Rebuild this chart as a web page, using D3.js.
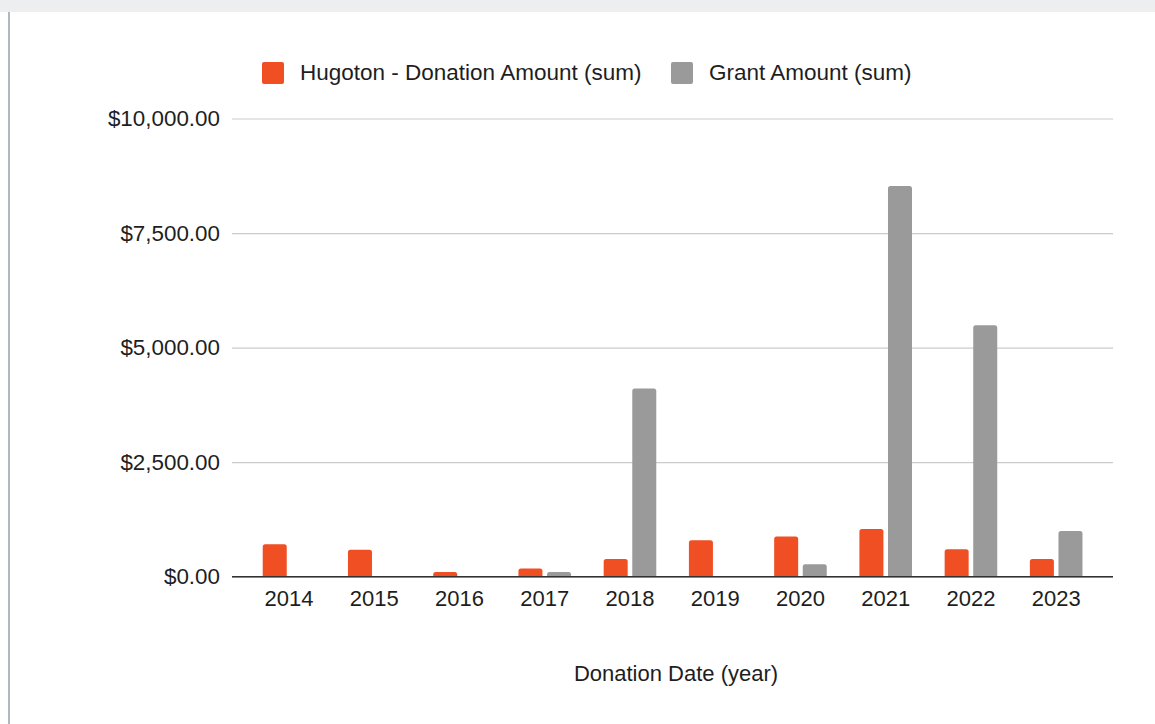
<!DOCTYPE html>
<html>
<head>
<meta charset="utf-8">
<script src="https://cdn.jsdelivr.net/npm/d3@7"></script>
<style>
  html, body { margin: 0; padding: 0; background: #fff; }
  svg { display: block; font-family: "Liberation Sans", Arial, Helvetica, sans-serif; }
</style>
</head>
<body>
<svg id="chart" width="1155" height="724"></svg>
<script>
const years = ["2014","2015","2016","2017","2018","2019","2020","2021","2022","2023"];
const seriesNames = ["Hugoton - Donation Amount (sum)", "Grant Amount (sum)"];
const donationAmount = [710, 590, 100, 180, 385, 795, 880, 1040, 600, 385];
const grantAmount = [0, 0, 0, 100, 4110, 0, 270, 8525, 5490, 1000];
const yTicks = [0, 2500, 5000, 7500, 10000];
const seriesColors = ["#ef4f23", "#9a9a9a"];
const xAxisTitle = "Donation Date (year)";

const svg = d3.select("#chart");
const W = 1155, H = 724;

// page chrome
svg.append("rect").attr("x", 0).attr("y", 0).attr("width", W).attr("height", 12).attr("fill", "#eceef0");
svg.append("rect").attr("x", 8).attr("y", 12).attr("width", 2).attr("height", H - 12).attr("fill", "#adb8bf");

const plotLeft = 232, plotRight = 1113;
const y = d3.scaleLinear().domain([0, 10000]).range([576.7, 118.5]);
const x0 = d3.scaleBand().domain(years).range([246.4, 1098.8]).paddingInner(0.383).paddingOuter(0.1915);
const x1 = d3.scaleBand().domain([0, 1]).range([0, x0.bandwidth()]).paddingInner(0.16).paddingOuter(0);

const fmt = v => "$" + d3.format(",.2f")(v);

// gridlines + y labels
const yAxis = d3.axisLeft(y).tickValues(yTicks).tickSize(-(plotRight - plotLeft)).tickPadding(12).tickFormat(fmt);
const gy = svg.append("g").attr("transform", `translate(${plotLeft},0)`).call(yAxis);
gy.select(".domain").remove();
gy.selectAll(".tick line").attr("stroke", "#cccccc").attr("stroke-width", 1.2);
gy.selectAll(".tick text").attr("fill", "#1e1e1e").attr("font-size", 22.4).attr("font-family", "Liberation Sans, Arial, sans-serif");

// bars
const data = years.map((yr, i) => ({ yr, vals: [donationAmount[i], grantAmount[i]] }));
function topRounded(xp, yp, w, h, r) {
  r = Math.min(r, h, w / 2);
  return `M${xp},${yp + h}V${yp + r}Q${xp},${yp} ${xp + r},${yp}H${xp + w - r}Q${xp + w},${yp} ${xp + w},${yp + r}V${yp + h}Z`;
}
const groups = svg.append("g").selectAll("g").data(data).join("g")
  .attr("transform", d => `translate(${x0(d.yr)},0)`);
groups.selectAll("path").data(d => d.vals.map((v, s) => ({ v, s })).filter(e => e.v > 0)).join("path")
  .attr("fill", e => seriesColors[e.s])
  .attr("d", e => topRounded(x1(e.s), y(e.v), x1.bandwidth(), y(0) - y(e.v), 2.5));

// x axis baseline + labels
const xAxis = d3.axisBottom(x0).tickSize(0).tickPadding(14);
const gx = svg.append("g").attr("transform", `translate(0,${y(0)})`).call(xAxis);
gx.select(".domain").remove();
gx.selectAll(".tick text").attr("fill", "#1e1e1e").attr("font-size", 22).attr("font-family", "Liberation Sans, Arial, sans-serif");
svg.append("line").attr("x1", plotLeft).attr("x2", plotRight).attr("y1", y(0)).attr("y2", y(0))
  .attr("stroke", "#333").attr("stroke-width", 1.5);

// axis title
svg.append("text").attr("x", 676).attr("y", 681).attr("text-anchor", "middle")
  .attr("font-size", 22).attr("fill", "#1e1e1e").text(xAxisTitle);

// legend
const legendX = [262, 671];
const lg = svg.append("g").selectAll("g").data(seriesNames).join("g")
  .attr("transform", (d, i) => `translate(${legendX[i]},62)`);
lg.append("rect").attr("width", 22).attr("height", 22).attr("rx", 2).attr("fill", (d, i) => seriesColors[i]);
lg.append("text").attr("x", 38).attr("y", 18).attr("font-size", 22.5).attr("fill", "#1e1e1e").text(d => d);
</script>
</body>
</html>
